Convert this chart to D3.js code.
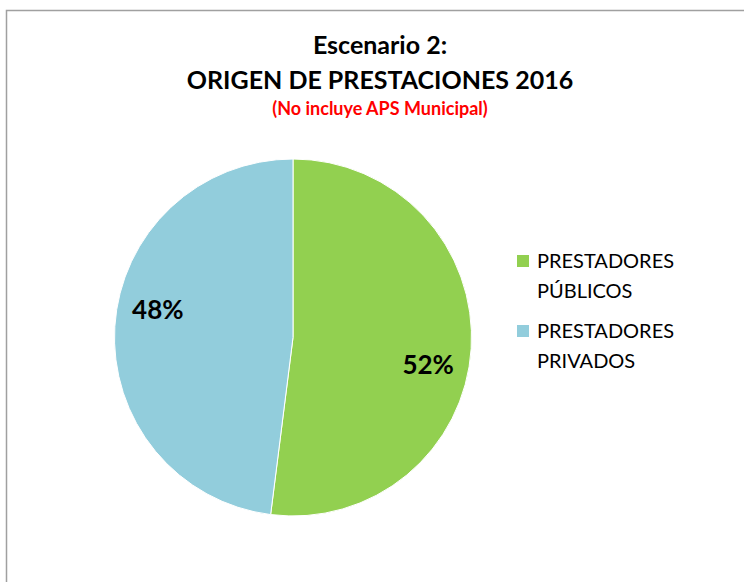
<!DOCTYPE html>
<html>
<head>
<meta charset="utf-8">
<script src="https://cdn.jsdelivr.net/npm/d3@7"></script>
<style>
  body { margin: 0; background: #fff; }
  svg { display: block; }
</style>
</head>
<body>
<div id="chart"></div>
<script>
const categories = ['PRESTADORES PÚBLICOS', 'PRESTADORES PRIVADOS']
const legendLines = [['PRESTADORES', 'PÚBLICOS'], ['PRESTADORES', 'PRIVADOS']]
const values = [52, 48]
const colors = ['#92D050', '#92CDDC']
const titleLines = ['Escenario 2:', 'ORIGEN DE PRESTACIONES 2016']
const subtitle = '(No incluye APS Municipal)'

const width = 744, height = 582
const cx = 293, cy = 337.5, radius = 178.5
const font = 'Lato, "Open Sans", sans-serif'

const svg = d3.select('#chart').append('svg')
  .attr('width', width)
  .attr('height', height)

// chart border (runs off right / bottom edges)
svg.append('rect')
  .attr('x', 6.5).attr('y', 10.5)
  .attr('width', width + 20).attr('height', height + 20)
  .attr('fill', '#fff')
  .attr('stroke', '#a0a0a0')
  .attr('stroke-width', 1.5)

// title
svg.selectAll('text.title')
  .data(titleLines)
  .join('text')
  .attr('class', 'title')
  .attr('x', 380)
  .attr('y', (d, i) => 54 + i * 35)
  .attr('text-anchor', 'middle')
  .attr('font-family', font)
  .attr('font-weight', 'bold')
  .attr('font-size', '25px')
  .attr('fill', '#000')
  .text(d => d)

svg.append('text')
  .attr('x', 380)
  .attr('y', 115)
  .attr('text-anchor', 'middle')
  .attr('font-family', font)
  .attr('font-weight', 'bold')
  .attr('font-size', '18px')
  .attr('fill', '#ff0000')
  .text(subtitle)

// pie
const pie = d3.pie().sort(null).value(d => d)
const arcs = pie(values)
const arc = d3.arc().innerRadius(0).outerRadius(radius)

const g = svg.append('g').attr('transform', `translate(${cx},${cy})`)

g.selectAll('path')
  .data(arcs)
  .join('path')
  .attr('d', arc)
  .attr('fill', (d, i) => colors[i])
  .attr('stroke', '#fff')
  .attr('stroke-width', 1)

// percentage labels (Excel best-fit placement, slightly rotated clockwise)
const labelR = 138
const labelShift = 8 * Math.PI / 180
g.selectAll('text')
  .data(arcs)
  .join('text')
  .attr('x', d => labelR * Math.sin((d.startAngle + d.endAngle) / 2 + labelShift))
  .attr('y', d => -labelR * Math.cos((d.startAngle + d.endAngle) / 2 + labelShift))
  .attr('dy', '0.35em')
  .attr('text-anchor', 'middle')
  .attr('font-family', font)
  .attr('font-weight', 'bold')
  .attr('font-size', '26px')
  .attr('fill', '#000')
  .text(d => d3.format('d')(d.data) + '%')

// legend
const legend = svg.append('g').attr('transform', 'translate(517,255)')
const item = legend.selectAll('g')
  .data(categories)
  .join('g')
  .attr('transform', (d, i) => `translate(0,${i * 70})`)

item.append('rect')
  .attr('width', 12).attr('height', 12)
  .attr('fill', (d, i) => colors[i])

item.append('text')
  .attr('x', 20)
  .attr('font-family', font)
  .attr('font-size', '20px')
  .attr('fill', '#000')
  .selectAll('tspan')
  .data((d, i) => legendLines[i])
  .join('tspan')
  .attr('x', 20)
  .attr('y', (d, i) => 13 + i * 30)
  .text(d => d)
</script>
</body>
</html>
